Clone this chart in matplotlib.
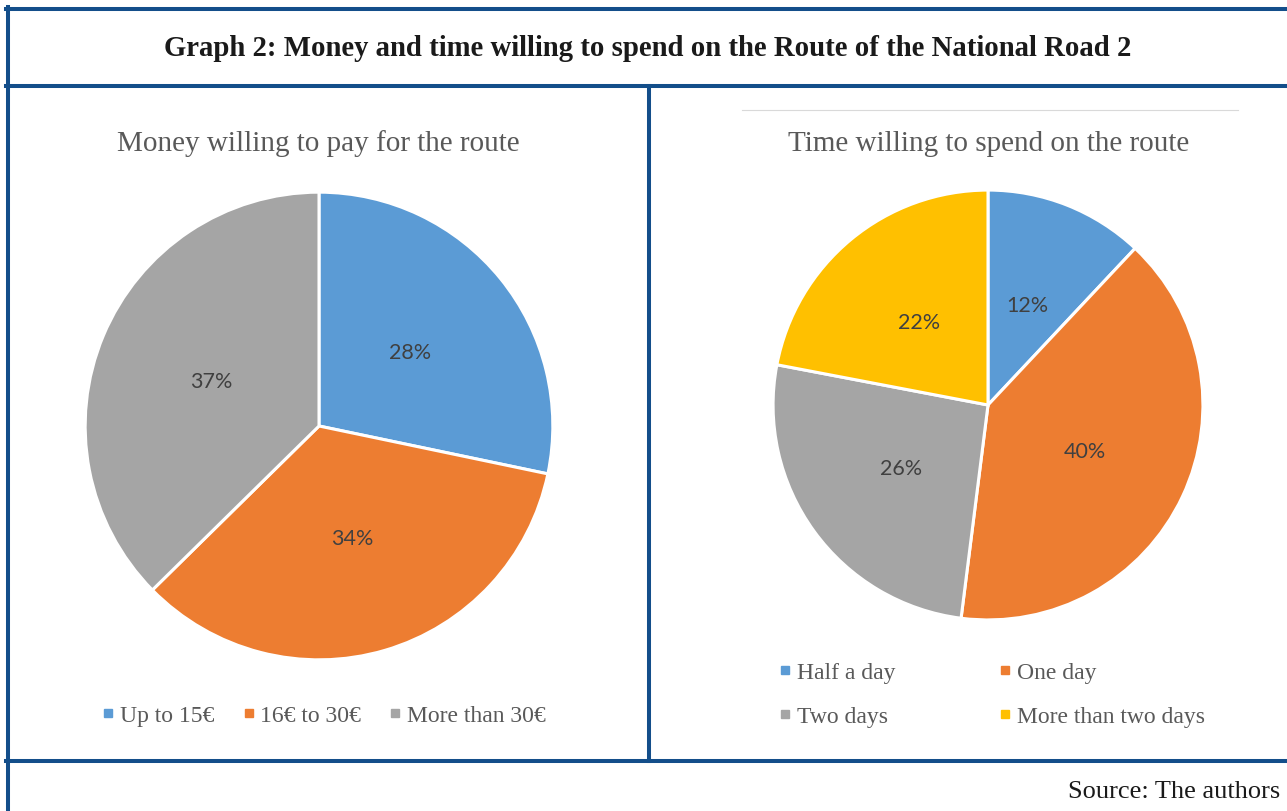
import matplotlib
matplotlib.use('Agg')
import matplotlib.pyplot as plt
from matplotlib.lines import Line2D

W, H = 1287, 812

# data
money_labels = ['Up to 15€', '16€ to 30€', 'More than 30€']
money_values = [28, 34, 37]
money_colors = ['#5B9BD5', '#ED7D31', '#A5A5A5']

time_labels = ['Half a day', 'One day', 'Two days', 'More than two days']
time_values = [12, 40, 26, 22]
time_colors = ['#5B9BD5', '#ED7D31', '#A5A5A5', '#FFC000']

serif = ['Liberation Serif', 'DejaVu Serif']
border = '#134E8A'


def fx(x):
    return x / W


def fy(y):
    return 1 - y / H


def hline(y, x0, x1, **kw):
    fig.add_artist(Line2D([fx(x0), fx(x1)], [fy(y), fy(y)], transform=fig.transFigure, **kw))


def vline(x, y0, y1, **kw):
    fig.add_artist(Line2D([fx(x), fx(x)], [fy(y0), fy(y1)], transform=fig.transFigure, **kw))


def pie_axes(cx, cy, r):
    return fig.add_axes([fx(cx - r), fy(cy + r), 2 * r / W, 2 * r / H])


def draw_pie(ax, values, colors):
    wedges, texts, autotexts = ax.pie(
        values, colors=colors, startangle=90, counterclock=False,
        autopct='%1.0f%%', pctdistance=0.5,
        wedgeprops=dict(edgecolor='white', linewidth=2.2),
        textprops=dict(color='#404040', fontsize=15.5, family=['Lato', 'DejaVu Sans']))
    ax.set_xlim(-1.005, 1.005)
    ax.set_ylim(-1.005, 1.005)
    ax.set_aspect('equal')
    return wedges


fig = plt.figure(figsize=(W / 100, H / 100), dpi=100)

# frame lines
lw = 2.9
hline(10, 6, W + 5, color=border, lw=lw)
vline(8, 8, H + 5, color=border, lw=lw)
hline(87, 6, W + 5, color=border, lw=lw)
vline(649, 87, 762, color=border, lw=lw)
hline(762, 6, W + 5, color=border, lw=lw)
hline(111, 742, 1238, color='#D9D9D9', lw=0.8)

fig.text(fx(648), fy(49), 'Graph 2: Money and time willing to spend on the Route of the National Road 2',
         ha='center', va='center', fontsize=20.7, fontweight='bold', family=serif, color='#1a1a1a')
fig.text(fx(1280), fy(792), 'Source: The authors', ha='right', va='center',
         fontsize=19, family=serif, color='#1a1a1a')

# left pie
ax1 = pie_axes(319, 427, 235)
draw_pie(ax1, money_values, money_colors)
fig.text(fx(318), fy(144), 'Money willing to pay for the route', ha='center', va='center',
         fontsize=21, family=serif, color='#595959')
h1 = [Line2D([], [], marker='s', ls='none', color=c, markersize=5.5) for c in money_colors]
fig.legend(h1, money_labels, loc='center', bbox_to_anchor=(fx(324), fy(716)), ncol=3,
           frameon=False, handlelength=0.5, handletextpad=0.24, columnspacing=1.2,
           prop=dict(family=serif, size=17), labelcolor='#595959')

# right pie (legend filled row by row: reorder for matplotlib's column-major layout)
ax2 = pie_axes(988, 406, 216)
draw_pie(ax2, time_values, time_colors)
fig.text(fx(989), fy(144), 'Time willing to spend on the route', ha='center', va='center',
         fontsize=21, family=serif, color='#595959')
h2 = [Line2D([], [], marker='s', ls='none', color=c, markersize=5.5) for c in time_colors]
order = [0, 2, 1, 3]
fig.legend([h2[i] for i in order], [time_labels[i] for i in order], loc='center',
           bbox_to_anchor=(fx(992), fy(695.5)), ncol=2,
           frameon=False, handlelength=0.5, handletextpad=0.24, columnspacing=4.4,
           labelspacing=0.94, prop=dict(family=serif, size=17), labelcolor='#595959')

fig.savefig('out.png', dpi=100)
